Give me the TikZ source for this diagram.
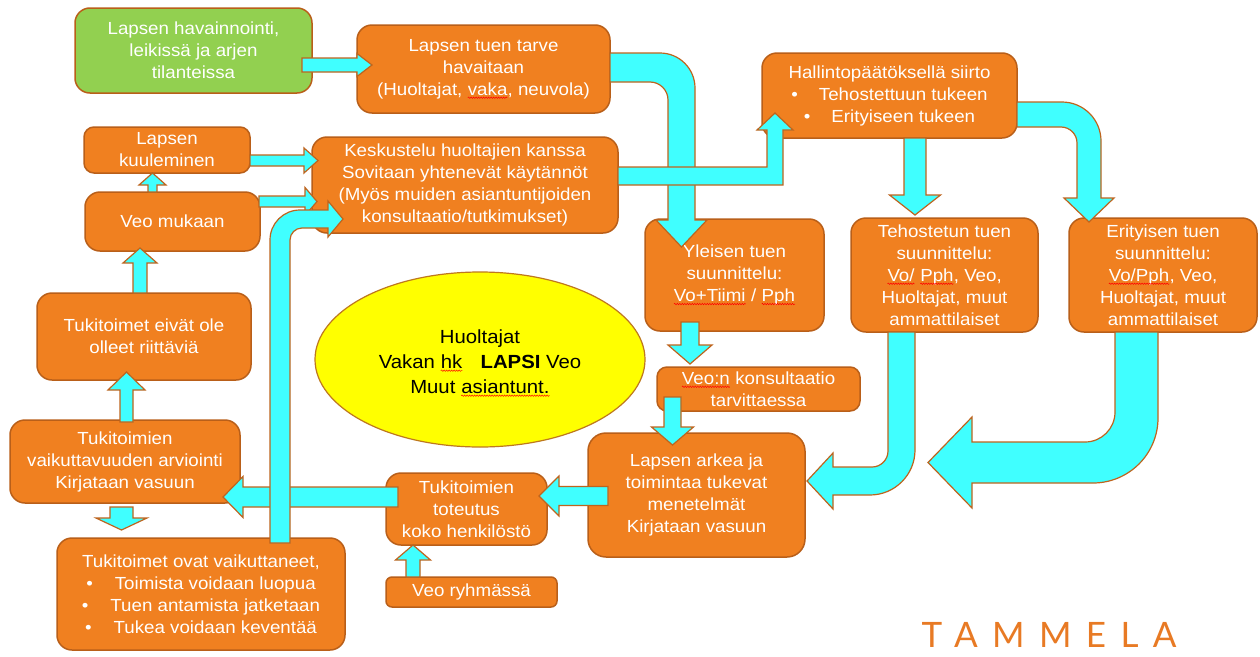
\documentclass[tikz,border=0pt]{standalone}
\usepackage{fontspec}
\setmainfont{Liberation Sans}[FakeStretch=1.07]
\newfontfamily\tamfont{Lato}[LetterSpace=41]
\usetikzlibrary{shapes.geometric,decorations.pathmorphing}
\definecolor{org}{RGB}{240,128,32}
\definecolor{brd}{RGB}{185,95,25}
\definecolor{grn}{RGB}{146,208,80}
\definecolor{cyn}{RGB}{64,255,255}
\definecolor{abrd}{RGB}{190,100,30}
\definecolor{ylw}{RGB}{255,255,0}
\definecolor{ebrd}{RGB}{190,120,30}
\definecolor{tam}{RGB}{232,122,36}
\newcommand\sq[2][white]{\tikz[baseline=(w.base)]{\node[rectangle,inner sep=0pt,outer sep=0pt,minimum width=0pt,minimum height=0pt,text=#1,draw=none,fill=none,rounded corners=0pt] (w) {#2};
  \draw[red,line width=0.5pt,sharp corners,decorate,decoration={snake,amplitude=0.7pt,segment length=2.5pt}] ([yshift=-2.5pt]w.base west) -- ([yshift=-2.5pt]w.base east);}}
\tikzset{
  box/.style={draw=brd, fill=org, line width=1.5pt, rounded corners=15pt, text=white,
    align=center, inner sep=0pt, font=\fontsize{17.5}{22}\selectfont},
  barrow/.style={draw=abrd, fill=cyn, line width=1.2pt, line join=miter},
}
\newcommand\bx[7][]{\node[box,minimum width={#5-#3},minimum height={#6-#4},#1] (#2) at ({(#3+#5)/2},{(#4+#6)/2}) {#7};}
% horizontal block arrow: tail x, head base x, tip x, y centre, shaft half, head half
\newcommand\HArr[6]{\draw[barrow] (#1,{#4-#5}) -- (#2,{#4-#5}) -- (#2,{#4-#6}) -- (#3,#4) -- (#2,{#4+#6}) -- (#2,{#4+#5}) -- (#1,{#4+#5}) -- cycle;}
% vertical block arrow: tail y, head base y, tip y, x centre, shaft half, head half
\newcommand\VArr[6]{\draw[barrow] ({#4-#5},#1) -- ({#4-#5},#2) -- ({#4-#6},#2) -- (#4,#3) -- ({#4+#6},#2) -- ({#4+#5},#2) -- ({#4+#5},#1) -- cycle;}
\begin{document}
\begin{tikzpicture}[x=1pt,y=-1pt]
\useasboundingbox (0,0) rectangle (1260,656);
\fill[white] (0,0) rectangle (1260,656);
% boxes
\bx[fill=grn]{G}{75}{8}{312}{93}{Lapsen havainnointi,\\leikissä ja arjen\\tilanteissa}
\bx{T}{357}{25}{610}{113}{Lapsen tuen tarve\\havaitaan\\(Huoltajat, \sq{vaka}, neuvola)}
\bx{H}{762}{53}{1017}{138}{Hallintopäätöksellä siirto\\\textbullet\hspace{21pt}Tehostettuun tukeen\\\textbullet\hspace{21pt}Erityiseen tukeen}
\bx[rounded corners=10pt]{K}{84}{127}{250}{173}{Lapsen\\kuuleminen}
\bx{KE}{312}{137}{618}{233}{Keskustelu huoltajien kanssa\\Sovitaan yhtenevät käytännöt\\(Myös muiden asiantuntijoiden\\konsultaatio/tutkimukset)}
\bx{VM}{85}{192}{260}{251}{Veo mukaan}
\bx{Y}{645}{219}{824}{331}{Yleisen tuen\\suunnittelu:\\\sq{Vo+Tiimi} / \sq{Pph}}
\bx{TE}{851}{218}{1038}{332}{Tehostetun tuen\\suunnittelu:\\\sq{Vo/} \sq{Pph}, Veo,\\Huoltajat, muut\\ammattilaiset}
\bx{E}{1069}{218}{1257}{332}{Erityisen tuen\\suunnittelu:\\\sq{Vo/Pph}, Veo,\\Huoltajat, muut\\ammattilaiset}
\bx{TEO}{37}{293}{251}{380}{Tukitoimet eivät ole\\olleet riittäviä}
\bx[rounded corners=10pt]{VK}{657}{367}{860}{411}{\sq{Veo:n} konsultaatio\\tarvittaessa}
\bx{VA}{10}{420}{240}{503}{Tukitoimien\\vaikuttavuuden arviointi\\Kirjataan vasuun}
\bx[rounded corners=18pt]{LA}{588}{433}{805}{557}{Lapsen arkea ja\\toimintaa tukevat\\menetelmät\\Kirjataan vasuun}
\bx{TT}{386}{473}{547}{545}{Tukitoimien\\toteutus\\koko henkilöstö}
\bx{TO}{57}{538}{345}{650}{Tukitoimet ovat vaikuttaneet,\\\textbullet\hspace{22pt}Toimista voidaan luopua\\\textbullet\hspace{22pt}Tuen antamista jatketaan\\\textbullet\hspace{22pt}Tukea voidaan keventää}
\bx[rounded corners=6pt]{VR}{386}{577}{557}{607}{Veo ryhmässä}
\node[draw=ebrd, fill=ylw, ellipse, line width=1.2pt, minimum width=330, minimum height=175,
  inner sep=0pt] (C) at (480,359.5) {};
\node[align=center, text=black, inner sep=0pt, font=\fontsize{19}{25}\selectfont] (Ctext) at (480,363)
  {Huoltajat\\Vakan \sq[black]{hk}\hspace{18pt}\textbf{LAPSI} Veo\\Muut \sq[black]{asiantunt.}};
% arrows
\HArr{302}{357}{372}{65}{7}{11.5}          % G -> T
\draw[barrow] (610,53) -- (660,53) .. controls (679.3,53) and (695,68.7) .. (695,88) -- (695,220)
  -- (707,220) -- (681.5,247) -- (656,220) -- (668,220) -- (668,100)
  .. controls (668,90.1) and (659.9,82) .. (650,82) -- (610,82) -- cycle; % T -> Y
\draw[barrow] (618,167) -- (767,167) -- (767,130) -- (757,130) -- (775,113) -- (793,130)
  -- (783,130) -- (783,185) -- (618,185) -- cycle;   % KE -> H
\VArr{138}{195}{215}{915}{11}{25.5}         % H -> TE
\draw[barrow] (1017,102) -- (1062,102) .. controls (1083.5,102) and (1101,119.5) .. (1101,141)
  -- (1101,198) -- (1114,198) -- (1089,222) -- (1064,198) -- (1077,198) -- (1077,143)
  .. controls (1077,134.2) and (1069.8,127) .. (1061,127) -- (1017,127) -- cycle; % H -> E
\VArr{322}{345}{364}{690}{9}{22}            % Y -> VK
\VArr{397}{427}{445}{672.5}{8.5}{21}        % VK -> LA
\draw[barrow] (888,332) -- (915,332) -- (915,450) .. controls (915,474.8) and (894.8,495) .. (870,495)
  -- (833,495) -- (833,509) -- (807,481) -- (833,453) -- (833,467) -- (872,467)
  .. controls (880.8,467) and (888,459.8) .. (888,451) -- cycle; % TE -> LA
\draw[barrow] (1115,332) -- (1158,332) -- (1158,418) .. controls (1158,453.9) and (1128.9,483) .. (1093,483)
  -- (972,483) -- (972,508) -- (928,462.5) -- (972,417) -- (972,442) -- (1085,442)
  .. controls (1101.6,442) and (1115,428.6) .. (1115,412) -- cycle; % E -> LA
\HArr{608}{559}{539}{496}{9.5}{20}          % LA -> TT
\HArr{398}{243}{223}{497}{10}{20.5}         % TT -> VA
\VArr{577}{560}{545}{413}{7}{17.5}          % VR -> TT
\VArr{507}{518}{530}{121.5}{11.5}{25.5}     % VA -> TO
\VArr{422}{390}{372}{126.5}{6.5}{18.5}      % VA -> TEO
\VArr{293}{263}{248}{140}{7}{17}            % TEO -> VM
\VArr{192}{185}{173}{152.5}{4.5}{13.5}      % VM -> K
\HArr{250}{304}{318}{160.5}{5.5}{12.5}      % K -> KE
\HArr{259}{305}{317}{201.5}{5.5}{14}        % VM -> KE
\draw[barrow] (270,543) -- (270,240) .. controls (270,223.4) and (283.4,210) .. (300,210)
  -- (328,210) -- (328,201) -- (343,219) -- (328,237) -- (328,228) -- (302,228)
  .. controls (295.4,228) and (290,233.4) .. (290,240) -- (290,543) -- cycle; % TO -> KE
% logo
\node[font=\tamfont\fontsize{35}{35}\selectfont, text=tam, inner sep=0pt] (logo) at (1049,635) {TAMMELA};
\end{tikzpicture}
\end{document}
